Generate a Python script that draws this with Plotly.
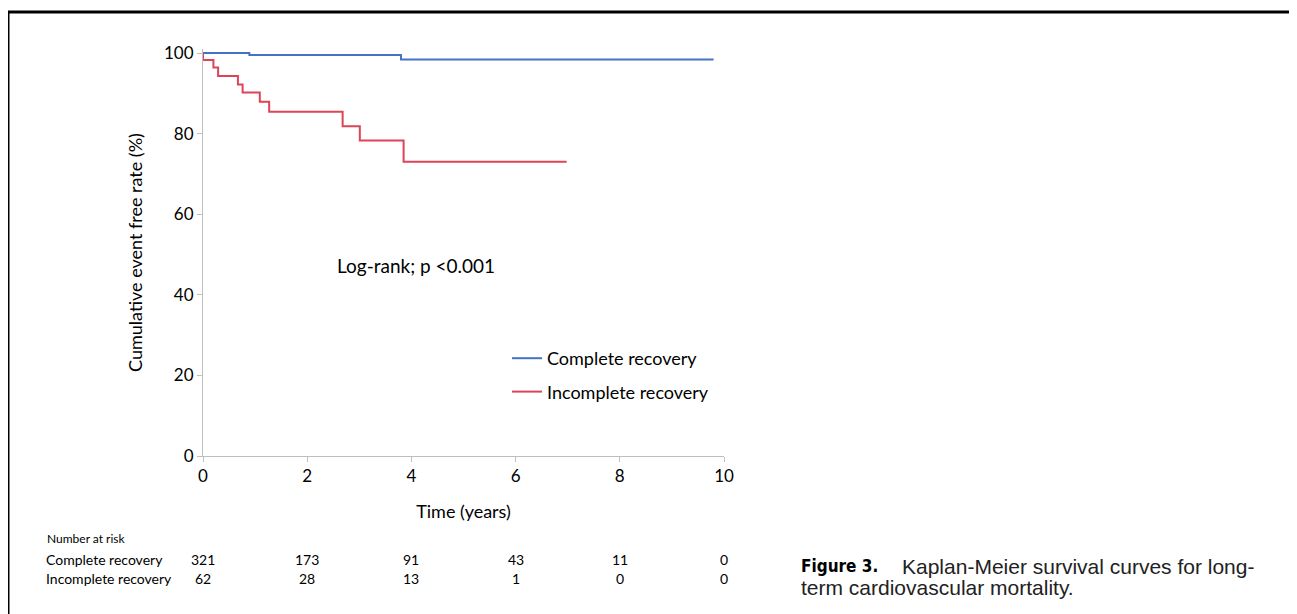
import plotly.graph_objects as go

# ---- data ----
complete_t = [0, 0.89, 0.89, 3.80, 3.80, 9.80]
complete_s = [100, 100, 99.5, 99.5, 98.4, 98.4]

incomplete_t = [0, 0, 0.20, 0.20, 0.29, 0.29, 0.67, 0.67, 0.76, 0.76, 1.09, 1.09,
                1.27, 1.27, 2.68, 2.68, 3.01, 3.01, 3.85, 3.85, 6.98]
incomplete_s = [100, 98.3, 98.3, 96.4, 96.4, 94.3, 94.3, 92.2, 92.2, 90.2, 90.2, 87.9,
                87.9, 85.4, 85.4, 81.8, 81.8, 78.3, 78.3, 73.0, 73.0]

risk_times = [0, 2, 4, 6, 8, 10]
risk_complete = [321, 173, 91, 43, 11, 0]
risk_incomplete = [62, 28, 13, 1, 0, 0]

x_ticks = [0, 2, 4, 6, 8, 10]
y_ticks = [0, 20, 40, 60, 80, 100]

FONT = "Lato"
OFF = 8  # page body margin
W, H = 1297 - OFF, 614 - OFF
# plot area in reference-pixel coordinates
L, R, T, B = 203, 724, 49, 456


def px(xp):
    return (xp - L) / (R - L)


def py(yp):
    return 1 - (yp - T) / (B - T)


fig = go.Figure()
fig.add_trace(go.Scatter(x=complete_t, y=complete_s, mode="lines",
                         name="Complete recovery", legendgroup="a",
                         line=dict(color="#4472C4", width=2)))
fig.add_trace(go.Scatter(x=incomplete_t, y=incomplete_s, mode="lines",
                         name="Incomplete recovery", legendgroup="b",
                         line=dict(color="#DC4557", width=2)))

ann = []
ann.append(dict(text="Log-rank; p <0.001", x=px(335), y=py(265), xref="paper", yref="paper",
                xanchor="left", yanchor="middle", showarrow=False,
                font=dict(family=FONT, size=19, color="#000")))
ann.append(dict(text="Number at risk", x=px(45), y=py(538), xref="paper", yref="paper",
                xanchor="left", yanchor="middle", showarrow=False,
                font=dict(family=FONT, size=12, color="#000")))
for label, vals, yy in [("Complete recovery", risk_complete, 559),
                        ("Incomplete recovery", risk_incomplete, 578)]:
    ann.append(dict(text=label, x=px(44), y=py(yy), xref="paper", yref="paper",
                    xanchor="left", yanchor="middle", showarrow=False,
                    font=dict(family=FONT, size=14, color="#000")))
    for t, v in zip(risk_times, vals):
        ann.append(dict(text=str(v), x=t, y=py(yy), xref="x", yref="paper",
                        xanchor="center", yanchor="middle", showarrow=False,
                        font=dict(family=FONT, size=14, color="#000")))

ann.append(dict(text="<b>Figure 3.</b>", x=px(799), y=py(566), xref="paper", yref="paper",
                xanchor="left", yanchor="middle", showarrow=False,
                font=dict(family="DejaVu Sans Condensed, Liberation Sans", size=17, color="#000")))
ann.append(dict(text="Kaplan-Meier survival curves for long-", x=px(900), y=py(566),
                xref="paper", yref="paper", xanchor="left", yanchor="middle", showarrow=False,
                font=dict(family="Liberation Sans", size=21, color="#222")))
ann.append(dict(text="term cardiovascular mortality.", x=px(799), y=py(587),
                xref="paper", yref="paper", xanchor="left", yanchor="middle", showarrow=False,
                font=dict(family="Liberation Sans", size=21, color="#222")))

shapes = []
bc = dict(color="#000", width=3)
shapes.append(dict(type="line", xref="paper", yref="paper", x0=px(8), x1=px(8), y0=py(12), y1=py(620), line=bc))
shapes.append(dict(type="line", xref="paper", yref="paper", x0=px(7), x1=px(1294), y0=py(12), y1=py(12), line=bc))
shapes.append(dict(type="line", xref="paper", yref="paper", x0=px(1293), x1=px(1293), y0=py(12), y1=py(620), line=bc))

fig.update_layout(
    width=W, height=H,
    margin=dict(l=L - OFF, r=W - (R - OFF), t=T - OFF, b=H - (B - OFF), pad=0),
    plot_bgcolor="white", paper_bgcolor="white",
    font=dict(family=FONT, size=17, color="#000"),
    showlegend=True,
    legend=dict(x=px(507), y=py(340), xanchor="left", yanchor="top",
                font=dict(family=FONT, size=18, color="#000"),
                tracegroupgap=7, bgcolor="rgba(0,0,0,0)", itemwidth=30),
    annotations=ann,
    shapes=shapes,
    xaxis=dict(range=[0, 10], tickvals=x_ticks, ticktext=[str(v) for v in x_ticks],
               showgrid=False, zeroline=False, showline=True, linecolor="#BFBFBF", linewidth=1,
               ticks="outside", ticklen=5, tickcolor="#BFBFBF",
               tickfont=dict(family=FONT, size=17),
               title=dict(text="Time (years)", standoff=19, font=dict(family=FONT, size=18))),
    yaxis=dict(range=[0, 101], tickvals=y_ticks, ticktext=[str(v) for v in y_ticks],
               showgrid=False, zeroline=False, showline=True, linecolor="#BFBFBF", linewidth=1,
               ticks="outside", ticklen=5, tickcolor="#BFBFBF",
               tickfont=dict(family=FONT, size=17),
               title=dict(text="Cumulative event free rate (%)", standoff=16,
                          font=dict(family=FONT, size=18))),
)

fig.write_html("out.html")
